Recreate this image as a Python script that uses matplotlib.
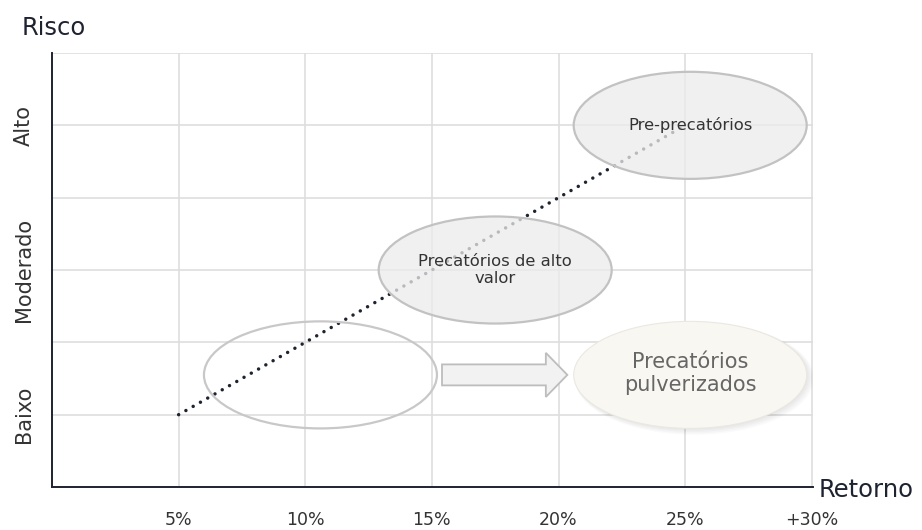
import matplotlib
matplotlib.use('Agg')
from matplotlib import pyplot as plt
from matplotlib.patches import Ellipse, FancyArrow

plt.rcParams['font.family'] = ['DejaVu Sans']

# eixo x: retorno (%)
x_ticks = [5, 10, 15, 20, 25, 30]
x_labels = ['5%', '10%', '15%', '20%', '25%', '+30%']
# eixo y: risco
y_levels = [1, 3, 5]
y_labels = ['Baixo', 'Moderado', 'Alto']

# linha de tendencia
trend_x = [5, 25]
trend_y = [1, 5]

# elipses (retorno, risco)
ell_names = ['', 'Precatórios de alto\nvalor', 'Pre-precatórios']
ell_x = [10.6, 17.5, 25.2]
ell_y = [1.55, 3.0, 5.0]

target_name = 'Precatórios\npulverizados'
target_x = 25.2
target_y = 1.55

arrow_start = 15.4
arrow_end = 20.35
arrow_y = 1.55

dark = '#1e2330'

fig = plt.figure(figsize=(9.22, 5.30), dpi=100)
ax = fig.add_axes([0.0564, 0.0811, 0.8254, 0.8189])
ax.set_xlim(0, 30.05)
ax.set_ylim(0, 6)

for s in ['top', 'right']:
    ax.spines[s].set_visible(False)
for s in ['left', 'bottom']:
    ax.spines[s].set_color(dark)
    ax.spines[s].set_linewidth(1.4)
    ax.spines[s].set_zorder(6)

# grade
for xv in x_ticks:
    ax.axvline(xv, color='#dedede', lw=1.2, zorder=0)
for yv in range(1, 7):
    ax.axhline(yv, color='#dedede', lw=1.2, zorder=0)

ax.set_xticks(x_ticks)
ax.set_xticklabels(x_labels, fontsize=12.5, color='#333333')
ax.set_yticks(y_levels)
ax.set_yticklabels(y_labels, fontsize=15, color='#333333', rotation=90, va='center')
ax.tick_params(axis='x', length=0, pad=17)
ax.tick_params(axis='y', length=0, pad=13)

# linha pontilhada
ax.plot(trend_x, trend_y, color=dark, lw=2.5, linestyle=(0, (0.01, 2.4)),
        dash_capstyle='round', zorder=2)

w, h = 9.2, 1.48
for name, cx, cy in zip(ell_names, ell_x, ell_y):
    if name:
        ax.add_patch(Ellipse((cx, cy), w, h, facecolor='#ececec', alpha=0.75,
                             edgecolor='none', zorder=3))
        ax.add_patch(Ellipse((cx, cy), w, h, facecolor='none',
                             edgecolor='#c2c2c2', lw=1.6, zorder=3.1))
        ax.text(cx, cy, name, ha='center', va='center', fontsize=11.8,
                color='#333333', linespacing=1.2, zorder=4)
    else:
        ax.add_patch(Ellipse((cx, cy), w, h, facecolor='none',
                             edgecolor='#c8c8c8', lw=1.6, zorder=3))

# sombra + elipse destacada
for k in range(5):
    off = 0.04 + k * 0.03
    ax.add_patch(Ellipse((target_x + off, target_y - off * 0.3),
                         w + 0.06 * k, h + 0.02 * k, facecolor='#000000',
                         alpha=0.02, edgecolor='none', zorder=3))
ax.add_patch(Ellipse((target_x, target_y), w, h, facecolor='#f9f7f2',
                     edgecolor='#ebe8e2', lw=0.8, zorder=4))
ax.text(target_x, target_y + 0.02, target_name, ha='center', va='center',
        fontsize=15, color='#666666', linespacing=1.2, zorder=5)

# seta
ax.add_patch(FancyArrow(arrow_start, arrow_y, arrow_end - arrow_start, 0,
                        width=0.29, head_width=0.61, head_length=0.85,
                        length_includes_head=True, facecolor='#f2f2f2',
                        edgecolor='#bdbdbd', lw=1.3, zorder=4))

fig.text(22 / 922, 1 - 35 / 530, 'Risco', fontsize=17.5, color=dark,
         ha='left', va='baseline')
fig.text(819 / 922, 1 - 497 / 530, 'Retorno', fontsize=17.5, color=dark,
         ha='left', va='baseline')

plt.savefig('out.png', dpi=100)
